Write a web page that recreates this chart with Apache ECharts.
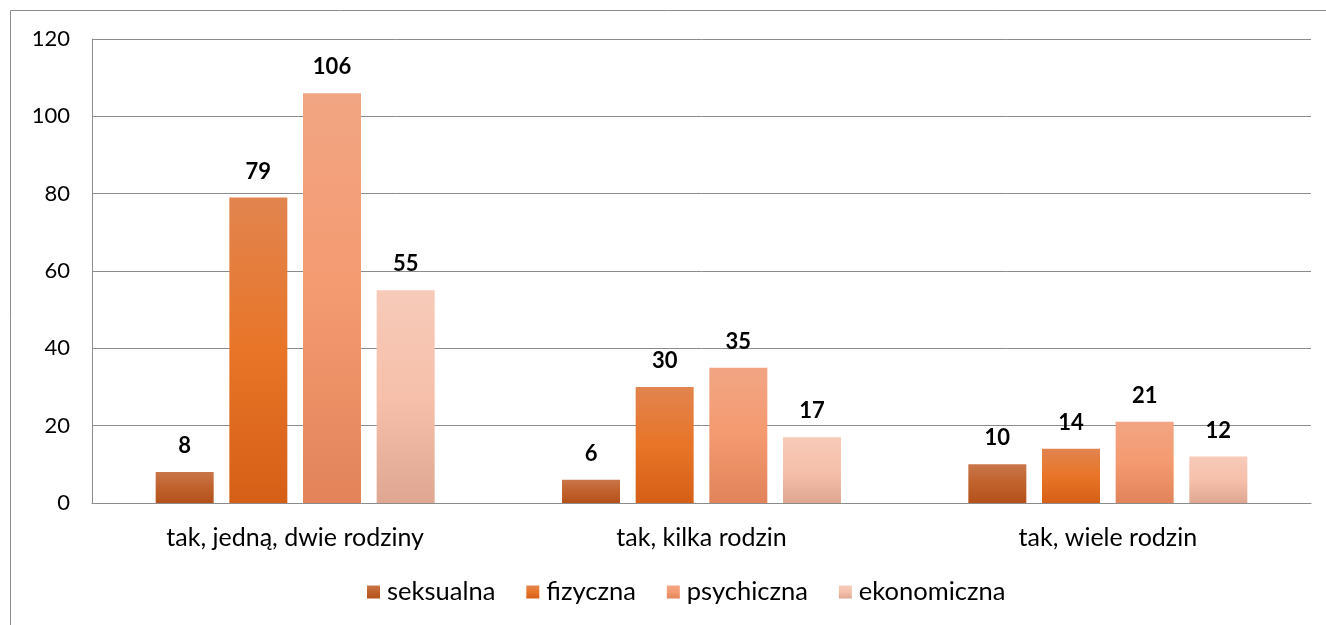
<!DOCTYPE html>
<html>
<head>
<meta charset="utf-8">
<script src="https://cdn.jsdelivr.net/npm/echarts@6/dist/echarts.min.js"></script>
<style>
  html, body { margin: 0; padding: 0; background: #fff; }
  #mychart { width: 1326px; height: 625px; }
</style>
</head>
<body>
<div id="mychart"></div>
<script>
// data
const categories = ['tak, jedną, dwie rodziny', 'tak, kilka rodzin', 'tak, wiele rodzin']
const seksualna = [8, 6, 10]
const fizyczna = [79, 30, 14]
const psychiczna = [106, 35, 21]
const ekonomiczna = [55, 17, 12]
const yTicks = [0, 20, 40, 60, 80, 100, 120]

const font = 'Lato, "Open Sans", sans-serif'

function grad(top, mid, bottom) {
    return new echarts.graphic.LinearGradient(0, 0, 0, 1, [
        { offset: 0, color: top },
        { offset: 0.5, color: mid },
        { offset: 1, color: bottom }
    ])
}

const colors = {
    seksualna: grad('#c9764a', '#c0612c', '#b4511b'),
    fizyczna: grad('#e2844f', '#e87528', '#d55f16'),
    psychiczna: grad('#f2a583', '#f49a70', '#e2835a'),
    ekonomiczna: grad('#f7cab9', '#f6c0ab', '#dfa792')
}

function makeSeries(name, data) {
    return {
        name: name,
        type: 'bar',
        data: data,
        barWidth: 58,
        barGap: '27%',
        itemStyle: { color: colors[name] },
        label: {
            show: true,
            position: 'top',
            distance: 15,
            fontFamily: font,
            fontSize: 22,
            fontWeight: 'bold',
            color: '#000'
        }
    }
}

let myChart = echarts.init(document.getElementById('mychart'))

myChart.setOption({
    animation: false,
    backgroundColor: '#fff',
    graphic: [{
        type: 'rect',
        shape: { x: 10.5, y: 10.5, width: 1340, height: 640 },
        style: { fill: 'none', stroke: '#8c8c8c', lineWidth: 1 },
        silent: true
    }],
    grid: { left: 92, right: 15, top: 39, bottom: 122 },
    legend: {
        bottom: 15,
        left: 362,
        icon: 'rect',
        itemWidth: 13,
        itemHeight: 13,
        itemGap: 31,
        textStyle: { fontFamily: font, fontSize: 25.5, color: '#000', padding: [0, 0, 0, 2] },
        data: ['seksualna', 'fizyczna', 'psychiczna', 'ekonomiczna'].map(n => ({ name: n, itemStyle: { color: colors[n] } }))
    },
    xAxis: {
        type: 'category',
        data: categories,
        axisLine: { lineStyle: { color: '#8c8c8c', width: 1 } },
        axisTick: { show: false },
        axisLabel: { fontFamily: font, fontSize: 25, color: '#000', margin: 22 }
    },
    yAxis: {
        type: 'value',
        min: yTicks[0],
        max: yTicks[yTicks.length - 1],
        interval: 20,
        axisLine: { show: true, lineStyle: { color: '#8c8c8c', width: 1 } },
        axisTick: { show: false },
        splitLine: { lineStyle: { color: '#8c8c8c', width: 1 } },
        axisLabel: { fontFamily: font, fontSize: 22, color: '#000', margin: 22 }
    },
    series: [
        makeSeries('seksualna', seksualna),
        makeSeries('fizyczna', fizyczna),
        makeSeries('psychiczna', psychiczna),
        makeSeries('ekonomiczna', ekonomiczna)
    ]
})
</script>
</body>
</html>
